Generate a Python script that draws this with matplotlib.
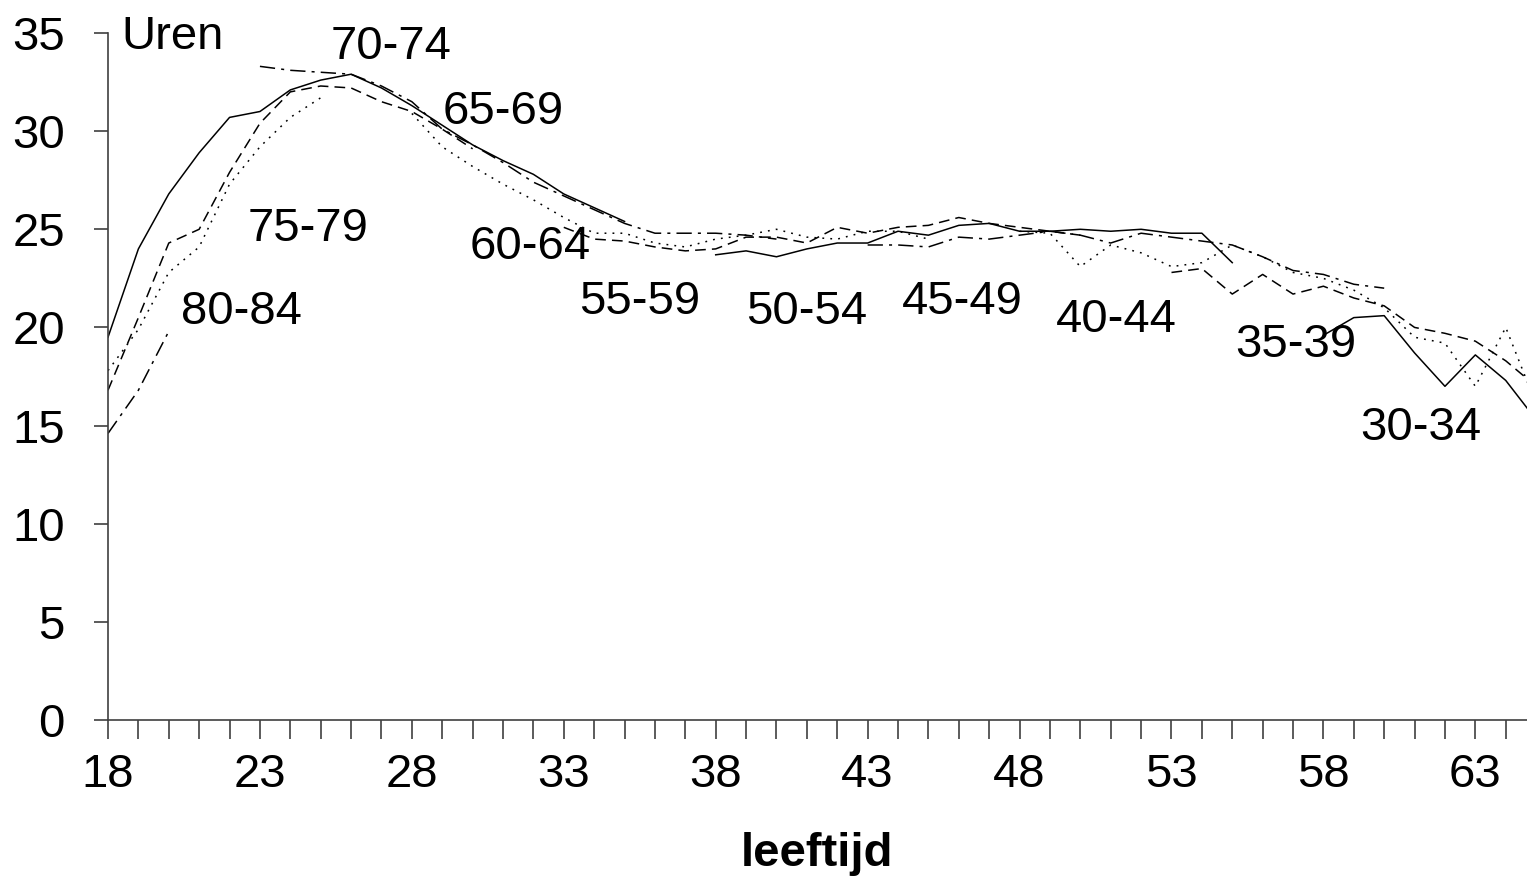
import matplotlib
matplotlib.use("Agg")
import matplotlib.pyplot as plt
import numpy as np

plt.rcParams['font.family'] = ['Liberation Sans', 'DejaVu Sans']

# ---- data (age ranges and average hours per cohort) ----
start_8589 = 18
c8589 = [14.6, 16.8, 19.8]
start_8084 = 18
c8084 = [17.8, 19.9, 22.8, 24.1, 27.3, 29.2, 30.7, 31.7]
start_7579 = 18
c7579 = [16.8, 20.5, 24.3, 25.0, 27.9, 30.4, 32.0, 32.3, 32.2, 31.5, 31.0, 30.1, 29.1]
start_7074 = 18
c7074 = [19.5, 24.0, 26.8, 28.9, 30.7, 31.0, 32.1, 32.6, 32.9, 32.2, 31.3, 30.3,
         29.3, 28.5, 27.8, 26.8, 26.1, 25.4]
start_6569 = 23
c6569 = [33.3, 33.1, 33.0, 32.9, 32.3, 31.5, 30.1, 29.3, 28.4, 27.4, 26.7, 26.0,
         25.3, 24.8, 24.8, 24.8, 24.7, 24.5]
start_6064 = 28
c6064 = [30.9, 29.2, 28.2, 27.3, 26.5, 25.6, 24.8, 24.8, 24.3, 24.1, 24.5, 24.7,
         25.0, 24.6, 24.5, 24.9, 24.9, 24.5]
start_5559 = 33
c5559 = [25.1, 24.5, 24.4, 24.1, 23.9, 24.0, 24.6, 24.6, 24.3, 25.1, 24.8, 25.1,
         25.2, 25.6, 25.3, 25.1, 24.9, 24.7]
start_5054 = 38
c5054 = [23.7, 23.9, 23.6, 24.0, 24.3, 24.3, 24.9, 24.7, 25.2, 25.3, 24.9, 24.9,
         25.0, 24.9, 25.0, 24.8, 24.8, 23.3]
start_4549 = 43
c4549 = [24.2, 24.2, 24.1, 24.6, 24.5, 24.7, 24.9, 24.7, 24.3, 24.8, 24.6, 24.4,
         24.2, 23.6, 22.9, 22.7, 22.2, 22.0]
start_4044 = 48
c4044 = [24.9, 24.8, 23.1, 24.2, 23.8, 23.1, 23.3, 24.2, 23.6, 22.8, 22.5, 21.9,
         21.0, 19.5, 19.2, 17.0, 20.0, 16.1]
start_3539 = 53
c3539 = [22.8, 23.0, 21.7, 22.7, 21.7, 22.1, 21.5, 21.1, 20.0, 19.7, 19.3, 18.3, 17.0]
start_3034 = 58
c3034 = [19.6, 20.5, 20.6, 18.7, 17.0, 18.6, 17.3, 15.3]

DASHDOT = (0, (10, 4, 2, 4))
DOTTED = (0, (1.2, 4))
DASHED = (0, (7, 4))

series = [
    (start_8589, c8589, DASHDOT),
    (start_8084, c8084, DOTTED),
    (start_7579, c7579, DASHED),
    (start_7074, c7074, '-'),
    (start_6569, c6569, DASHDOT),
    (start_6064, c6064, DOTTED),
    (start_5559, c5559, DASHED),
    (start_5054, c5054, '-'),
    (start_4549, c4549, DASHDOT),
    (start_4044, c4044, DOTTED),
    (start_3539, c3539, DASHED),
    (start_3034, c3034, '-'),
]

labels = ["80-84", "75-79", "70-74", "65-69", "60-64", "55-59",
          "50-54", "45-49", "40-44", "35-39", "30-34"]
label_x = [22.4, 24.6, 27.3, 31.0, 31.9, 35.5, 41.0, 46.1, 51.2, 57.1, 61.2]
label_y = [20.8, 25.0, 34.3, 31.0, 24.1, 21.3, 20.8, 21.3, 20.4, 19.1, 14.9]

W, H = 1527, 877
fig = plt.figure(figsize=(W / 100, H / 100), dpi=100)
ax = fig.add_axes([108 / W, 1 - 720 / H, (W - 108) / W, (720 - 33) / H])

for start, vals, ls in series:
    ages = np.arange(start, start + len(vals))
    ax.plot(ages, vals, color='black', lw=1.1, linestyle=ls, clip_on=True)

FS = 34
for t, x, y in zip(labels, label_x, label_y):
    ax.text(x, y, t, fontsize=FS, ha='center', va='center')

ax.text(18.45, 34.8, "Uren", fontsize=FS, ha='left', va='center')

ax.set_xlim(18, 64.7)
ax.set_ylim(0, 35)
ax.set_xticks(np.arange(18, 65, 1), minor=True)
ax.set_xticks(np.arange(18, 64, 5))
ax.set_yticks(np.arange(0, 36, 5))
for s in ['top', 'right']:
    ax.spines[s].set_visible(False)
for s in ['left', 'bottom']:
    ax.spines[s].set_color('#404040')
    ax.spines[s].set_linewidth(1.2)
ax.tick_params(axis='y', direction='out', length=10, width=1.2, color='#404040',
               labelsize=FS, pad=21)
ax.tick_params(axis='x', which='both', direction='out', length=14, width=1.2,
               color='#404040', labelsize=FS, pad=10)
ax.set_xlabel("leeftijd", fontsize=FS, fontweight='bold', labelpad=25)

fig.savefig("out.png", dpi=100)
